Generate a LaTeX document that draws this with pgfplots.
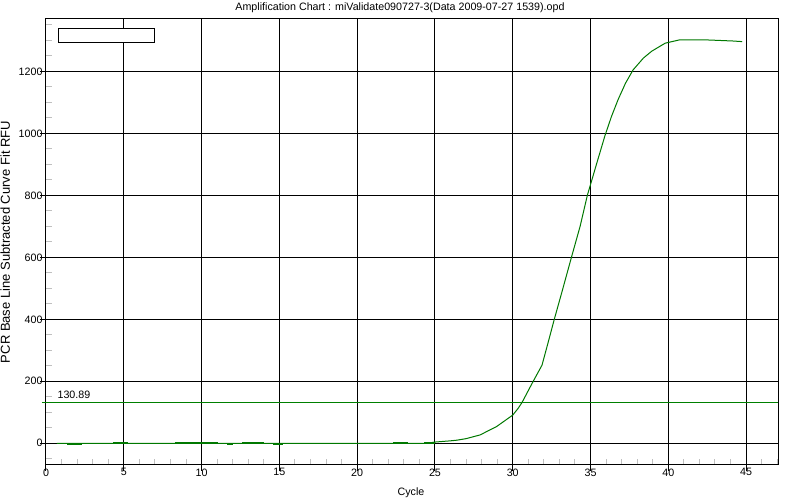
\documentclass[border=0pt]{standalone}
\usepackage{pgfplots}
\pgfplotsset{compat=1.18}
\usepackage{fontspec}
\setmainfont{Liberation Sans}
\definecolor{curvegreen}{RGB}{0,120,0}
\definecolor{thrgreen}{RGB}{0,128,0}
\definecolor{mtick}{RGB}{192,192,192}
\newcommand\fs{\fontsize{10.7pt}{12pt}\selectfont}
\newcommand\fl{\fontsize{13pt}{15pt}\selectfont}
\begin{document}
\begin{tikzpicture}[x=1pt,y=1pt]
\path[use as bounding box] (0,0) rectangle (800,500);
\node[font=\fs, anchor=base, inner sep=0] at (400,489) {Amplification Chart : miValidate090727-3(Data 2009-07-27 1539).opd};
\begin{axis}[
  at={(46pt,35pt)}, anchor=south west,
  width=732pt, height=446pt, scale only axis,
  xmin=0, xmax=47.05, ymin=-70, ymax=1369,
  xtick={0,5,...,45}, ytick={0,200,...,1200},
  minor xtick={1,2,3,4,6,7,8,9,11,12,13,14,16,17,18,19,21,22,23,24,26,27,28,29,31,32,33,34,36,37,38,39,41,42,43,44,46,47},
  minor ytick={-50,50,100,150,250,300,350,450,500,550,650,700,750,850,900,950,1050,1100,1150,1250,1300,1350},
  grid=major,
  major grid style={black, line width=1pt},
  axis line style={black, line width=1pt},
  tick align=inside,
  xtick pos=bottom, ytick pos=left,
  major tick length=6pt, minor tick length=6pt,
  major x tick style={black, line width=1pt, yshift=-6pt},
  major y tick style={black, line width=1pt, xshift=-6pt},
  minor tick style={mtick, line width=1pt},
  tick label style={font=\fs},
  /pgf/number format/assume math mode=true,
  /pgf/number format/1000 sep={},
  xlabel={Cycle}, ylabel={PCR Base Line Subtracted Curve Fit RFU},
  xlabel style={at={(axis description cs:0.4986,-0.0695)}, anchor=base, font=\fs},
  ylabel style={at={(axis description cs:-0.0492,0.5)}, anchor=base, rotate=0, font=\fl},
  clip=false,
]
% threshold
\addplot[thrgreen, line width=1pt] coordinates {(-0.26,130.89) (47.05,130.89)};
% amplification curve
\addplot[curvegreen, line width=1pt] coordinates {
(0.7,0) (24.5,0) (25,4) (26,8) (26.4,10) (27,15) (27.9,27) (28.96,54) (30,91)
(30.35,113) (30.6,132) (31.24,193) (31.88,252) (32.3,330) (32.67,400) (33.16,488) (33.8,605)
(34.33,700) (34.8,801) (35,835) (35.45,912) (35.93,993) (36.35,1055) (36.78,1110)
(37.25,1162) (37.74,1205) (38.4,1243) (38.93,1265) (39.8,1291) (40.75,1302) (42.2,1302)
(43.2,1300) (44.15,1298) (44.75,1296)};
% baseline wobble segments
\addplot[curvegreen, line width=2pt] coordinates {(1.33,-1.6) (2.29,-1.6)};
\addplot[curvegreen, line width=2pt] coordinates {(4.33,1.6) (5.29,1.6)};
\addplot[curvegreen, line width=2pt] coordinates {(8.29,1.6) (11.07,1.6)};
\addplot[curvegreen, line width=2pt] coordinates {(11.65,-1.6) (12.04,-1.6)};
\addplot[curvegreen, line width=2pt] coordinates {(12.62,1.6) (14.0,1.6)};
\addplot[curvegreen, line width=2pt] coordinates {(14.6,-1.6) (15.25,-1.6)};
\addplot[curvegreen, line width=2pt] coordinates {(22.33,1.6) (23.29,1.6)};
\addplot[curvegreen, line width=2pt] coordinates {(24.3,1.6) (25.0,1.6)};
\node[font=\fs, anchor=base west, inner sep=0] at (axis cs:0.73,143) {130.89};
\draw[black, line width=1pt, fill=white] (axis cs:0.79,1293.5) rectangle (axis cs:6.96,1338.7);
\end{axis}
\end{tikzpicture}
\end{document}
